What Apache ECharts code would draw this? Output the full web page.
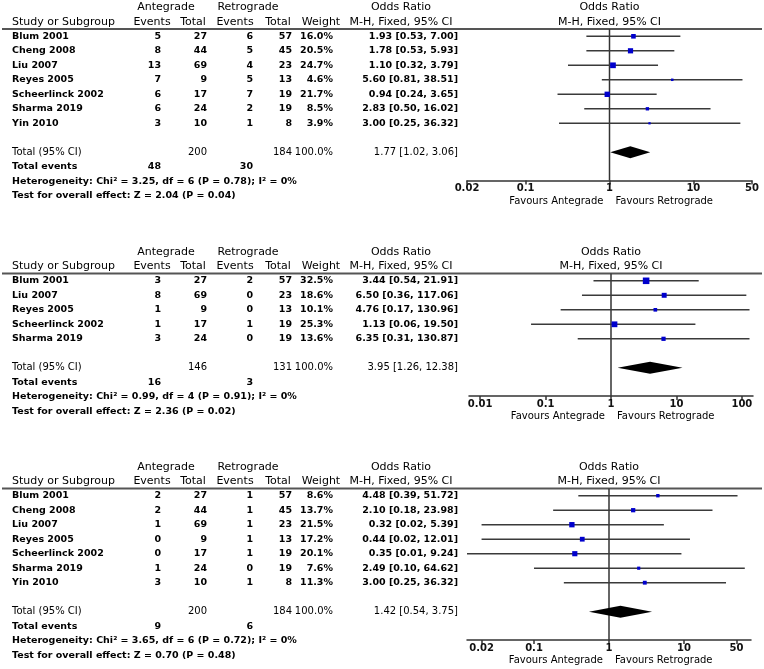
<!DOCTYPE html>
<html><head><meta charset="utf-8">
<script src="https://cdn.jsdelivr.net/npm/echarts@6/dist/echarts.min.js"></script>
<style>html,body{margin:0;padding:0;background:#fff}#c{width:764px;height:669px}</style>
</head><body><div id="c"></div>
<script>
// ---------- DATA ----------
// Panel 1
const studies1 = ['Blum 2001','Cheng 2008','Liu 2007','Reyes 2005','Scheerlinck 2002','Sharma 2019','Yin 2010'];
const antEvents1 = [5,8,13,7,6,6,3];
const antTotal1 = [27,44,69,9,17,24,10];
const retEvents1 = [6,5,4,5,7,2,1];
const retTotal1 = [57,45,23,13,19,19,8];
const weight1 = [16.0,20.5,24.7,4.6,21.7,8.5,3.9];
const or1 = [1.93,1.78,1.10,5.60,0.94,2.83,3.00];
const lo1 = [0.53,0.53,0.32,0.81,0.24,0.50,0.25];
const hi1 = [7.00,5.93,3.79,38.51,3.65,16.02,36.32];
const totalN1 = [200,184];
const totalEvents1 = [48,30];
const pooled1 = [1.77,1.02,3.06];
const het1 = 'Heterogeneity: Chi² = 3.25, df = 6 (P = 0.78); I² = 0%';
const test1 = 'Test for overall effect: Z = 2.04 (P = 0.04)';
const ticks1 = ['0.02','0.1','1','10','50'];

// Panel 2
const studies2 = ['Blum 2001','Liu 2007','Reyes 2005','Scheerlinck 2002','Sharma 2019'];
const antEvents2 = [3,8,1,1,3];
const antTotal2 = [27,69,9,17,24];
const retEvents2 = [2,0,0,1,0];
const retTotal2 = [57,23,13,19,19];
const weight2 = [32.5,18.6,10.1,25.3,13.6];
const or2 = [3.44,6.50,4.76,1.13,6.35];
const lo2 = [0.54,0.36,0.17,0.06,0.31];
const hi2 = [21.91,117.06,130.96,19.50,130.87];
const totalN2 = [146,131];
const totalEvents2 = [16,3];
const pooled2 = [3.95,1.26,12.38];
const het2 = 'Heterogeneity: Chi² = 0.99, df = 4 (P = 0.91); I² = 0%';
const test2 = 'Test for overall effect: Z = 2.36 (P = 0.02)';
const ticks2 = ['0.01','0.1','1','10','100'];

// Panel 3
const studies3 = ['Blum 2001','Cheng 2008','Liu 2007','Reyes 2005','Scheerlinck 2002','Sharma 2019','Yin 2010'];
const antEvents3 = [2,2,1,0,0,1,3];
const antTotal3 = [27,44,69,9,17,24,10];
const retEvents3 = [1,1,1,1,1,0,1];
const retTotal3 = [57,45,23,13,19,19,8];
const weight3 = [8.6,13.7,21.5,17.2,20.1,7.6,11.3];
const or3 = [4.48,2.10,0.32,0.44,0.35,2.49,3.00];
const lo3 = [0.39,0.18,0.02,0.02,0.01,0.10,0.25];
const hi3 = [51.72,23.98,5.39,12.01,9.24,64.62,36.32];
const totalN3 = [200,184];
const totalEvents3 = [9,6];
const pooled3 = [1.42,0.54,3.75];
const het3 = 'Heterogeneity: Chi² = 3.65, df = 6 (P = 0.72); I² = 0%';
const test3 = 'Test for overall effect: Z = 0.70 (P = 0.48)';
const ticks3 = ['0.02','0.1','1','10','50'];

// ---------- LAYOUT ----------
const ROW_H = 14.5;
const FONT = '"DejaVu Sans", Verdana, sans-serif';
const layouts = [
  {y0: 36.3, left: 467, right: 752, xMin: 0.02, xMax: 50},
  {y0: 280.8, left: 469, right: 753, xMin: 1/148, xMax: 148},
  {y0: 495.7, left: 467, right: 751, xMin: 1/78.2, xMax: 78.2}
];
const colX = {study: 12, evA: 161, totA: 207, evR: 253, totR: 292, weight: 333, orci: 458};
const headX = {ante: 166, retro: 248, orL: 401, evA: 152, totA: 193, evR: 235, totR: 278, weight: 321};

const panels = [
  {studies: studies1, evA: antEvents1, nA: antTotal1, evR: retEvents1, nR: retTotal1, w: weight1, or: or1, lo: lo1, hi: hi1, totN: totalN1, totEv: totalEvents1, pooled: pooled1, het: het1, test: test1, ticks: ticks1},
  {studies: studies2, evA: antEvents2, nA: antTotal2, evR: retEvents2, nR: retTotal2, w: weight2, or: or2, lo: lo2, hi: hi2, totN: totalN2, totEv: totalEvents2, pooled: pooled2, het: het2, test: test2, ticks: ticks2},
  {studies: studies3, evA: antEvents3, nA: antTotal3, evR: retEvents3, nR: retTotal3, w: weight3, or: or3, lo: lo3, hi: hi3, totN: totalN3, totEv: totalEvents3, pooled: pooled3, het: het3, test: test3, ticks: ticks3}
];

const L10 = Math.log10;
const chart = echarts.init(document.getElementById('c'), null, {renderer: 'canvas'});

const grids = [], xAxes = [], yAxes = [], series = [];
panels.forEach((p, i) => {
  const lay = layouts[i];
  const n = p.studies.length;
  p.totalRow = n + 1;
  p.axisRow = n + 3 - 0.05;
  grids.push({left: lay.left, width: lay.right - lay.left, top: lay.y0 - 0.5 * ROW_H, height: (p.axisRow + 0.5) * ROW_H});
  const tickVals = p.ticks.map(t => L10(parseFloat(t)));
  const fmt = v => { for (let k = 0; k < tickVals.length; k++) if (Math.abs(tickVals[k] - v) < 1e-6) return p.ticks[k]; return ''; };
  xAxes.push({
    gridIndex: i, type: 'value', min: L10(lay.xMin), max: L10(lay.xMax),
    splitLine: {show: false},
    axisLine: {onZero: false, lineStyle: {color: '#333', width: 1.5}},
    axisTick: {customValues: tickVals, inside: false, length: 4, lineStyle: {color: '#333', width: 1.5}},
    axisLabel: {customValues: tickVals, formatter: fmt, margin: 3, color: '#111', fontFamily: FONT, fontWeight: 'bold', fontSize: 10}
  });
  yAxes.push({gridIndex: i, type: 'value', inverse: true, min: -0.5, max: p.axisRow, show: false});

  // vertical line of no effect
  series.push({
    type: 'custom', xAxisIndex: i, yAxisIndex: i, silent: true,
    data: [[0, -0.5, p.axisRow]], encode: {x: 0, y: [1, 2]},
    renderItem: (params, api) => {
      const a = api.coord([api.value(0), api.value(1)]);
      const b = api.coord([api.value(0), api.value(2)]);
      return {type: 'line', shape: {x1: a[0], y1: a[1], x2: b[0], y2: b[1]}, style: {stroke: '#333', lineWidth: 1.5}};
    }
  });
  // study CIs and squares
  series.push({
    type: 'custom', xAxisIndex: i, yAxisIndex: i, silent: true,
    data: p.or.map((o, k) => [L10(p.lo[k]), L10(p.hi[k]), k, L10(o), p.w[k]]),
    encode: {x: [0, 1, 3], y: 2},
    renderItem: (params, api) => {
      const cs = params.coordSys;
      const a = api.coord([api.value(0), api.value(2)]);
      const b = api.coord([api.value(1), api.value(2)]);
      const c = api.coord([api.value(3), api.value(2)]);
      const x1 = Math.max(a[0], cs.x), x2 = Math.min(b[0], cs.x + cs.width);
      const s = Math.max(2.2, 1.15 * Math.sqrt(api.value(4)));
      return {type: 'group', children: [
        {type: 'line', shape: {x1: x1, y1: a[1], x2: x2, y2: a[1]}, style: {stroke: '#3a3a3a', lineWidth: 1.5}},
        {type: 'rect', shape: {x: c[0] - s / 2, y: c[1] - s / 2, width: s, height: s}, style: {fill: '#0000cc'}}
      ]};
    }
  });
  // pooled diamond
  series.push({
    type: 'custom', xAxisIndex: i, yAxisIndex: i, silent: true,
    data: [[L10(p.pooled[1]), L10(p.pooled[2]), p.totalRow, L10(p.pooled[0])]],
    encode: {x: [0, 1, 3], y: 2},
    renderItem: (params, api) => {
      const a = api.coord([api.value(0), api.value(2)]);
      const b = api.coord([api.value(1), api.value(2)]);
      const c = api.coord([api.value(3), api.value(2)]);
      const h = 6;
      return {type: 'polygon', shape: {points: [[a[0], a[1]], [c[0], c[1] - h], [b[0], b[1]], [c[0], c[1] + h]]}, style: {fill: '#000'}};
    }
  });
});

chart.setOption({animation: false, backgroundColor: '#fff', grid: grids, xAxis: xAxes, yAxis: yAxes, series: series});

// ---------- TABLE TEXT ----------
const els = [];
function txt(x, y, s, font, align) {
  els.push({type: 'text', x: x, y: y, silent: true,
    style: {text: String(s), font: font, fill: '#000', align: align || 'left', verticalAlign: 'middle', textAlign: align || 'left', textVerticalAlign: 'middle'}});
}
const fHead = 'normal 11px ' + FONT;
const fRow = 'bold 9.5px ' + FONT;
const fTot = 'normal 10px ' + FONT;
const fFav = 'normal 10px ' + FONT;
const f2 = v => v.toFixed(2);

panels.forEach((p, i) => {
  const ry = r => chart.convertToPixel({gridIndex: i}, [0, r])[1];
  const xOne = chart.convertToPixel({gridIndex: i}, [0, 0])[0];
  const lineY = ry(-0.5);
  els.push({type: 'line', silent: true, shape: {x1: 2, y1: lineY, x2: 762, y2: lineY}, style: {stroke: '#555', lineWidth: 2}});
  // headers
  txt(headX.ante, ry(-2), 'Antegrade', fHead, 'center');
  txt(headX.retro, ry(-2), 'Retrograde', fHead, 'center');
  txt(headX.orL, ry(-2), 'Odds Ratio', fHead, 'center');
  txt(xOne, ry(-2), 'Odds Ratio', fHead, 'center');
  txt(colX.study, ry(-1), 'Study or Subgroup', fHead, 'left');
  txt(headX.evA, ry(-1), 'Events', fHead, 'center');
  txt(headX.totA, ry(-1), 'Total', fHead, 'center');
  txt(headX.evR, ry(-1), 'Events', fHead, 'center');
  txt(headX.totR, ry(-1), 'Total', fHead, 'center');
  txt(headX.weight, ry(-1), 'Weight', fHead, 'center');
  txt(headX.orL, ry(-1), 'M-H, Fixed, 95% CI', fHead, 'center');
  txt(xOne, ry(-1), 'M-H, Fixed, 95% CI', fHead, 'center');
  // study rows
  p.studies.forEach((s, k) => {
    const y = ry(k);
    txt(colX.study, y, s, fRow, 'left');
    txt(colX.evA, y, p.evA[k], fRow, 'right');
    txt(colX.totA, y, p.nA[k], fRow, 'right');
    txt(colX.evR, y, p.evR[k], fRow, 'right');
    txt(colX.totR, y, p.nR[k], fRow, 'right');
    txt(colX.weight, y, p.w[k].toFixed(1) + '%', fRow, 'right');
    txt(colX.orci, y, f2(p.or[k]) + ' [' + f2(p.lo[k]) + ', ' + f2(p.hi[k]) + ']', fRow, 'right');
  });
  // total row
  const ty = ry(p.totalRow);
  txt(colX.study, ty, 'Total (95% CI)', fTot, 'left');
  txt(colX.totA, ty, p.totN[0], fTot, 'right');
  txt(colX.totR, ty, p.totN[1], fTot, 'right');
  txt(colX.weight, ty, '100.0%', fTot, 'right');
  txt(colX.orci, ty, f2(p.pooled[0]) + ' [' + f2(p.pooled[1]) + ', ' + f2(p.pooled[2]) + ']', fTot, 'right');
  // footer
  const ey = ry(p.totalRow + 1);
  txt(colX.study, ey, 'Total events', fRow, 'left');
  txt(colX.evA, ey, p.totEv[0], fRow, 'right');
  txt(colX.evR, ey, p.totEv[1], fRow, 'right');
  txt(colX.study, ry(p.totalRow + 2), p.het, fRow, 'left');
  txt(colX.study, ry(p.totalRow + 3), p.test, fRow, 'left');
  // favours
  const axisY = ry(p.axisRow);
  txt(xOne - 6, axisY + 20.5, 'Favours Antegrade', fFav, 'right');
  txt(xOne + 6, axisY + 20.5, 'Favours Retrograde', fFav, 'left');
});
chart.setOption({graphic: {elements: els}});
</script>
</body></html>
